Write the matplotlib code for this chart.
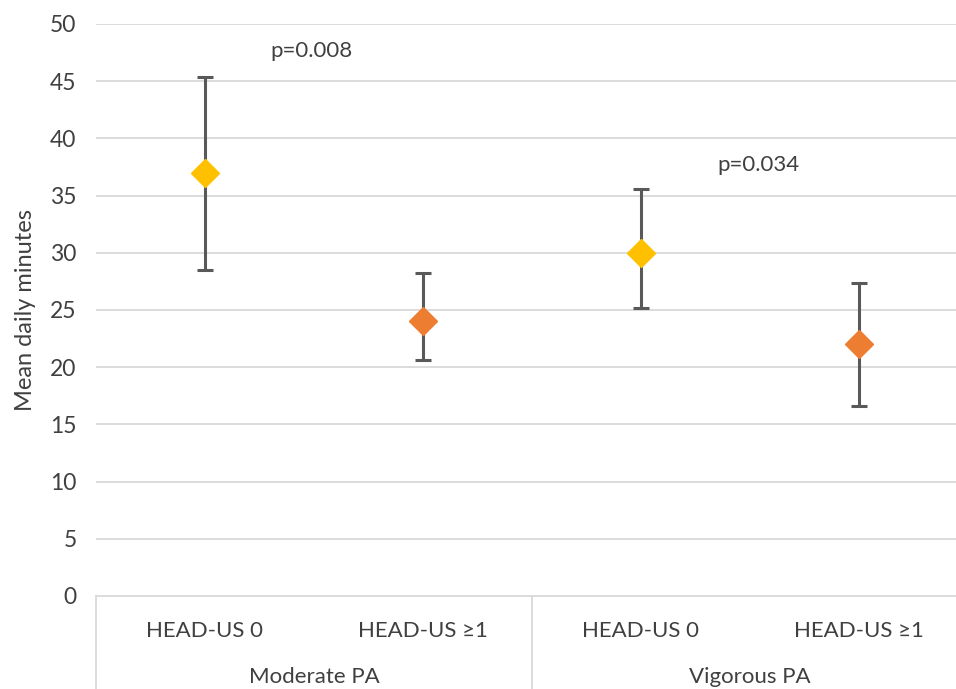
import matplotlib
matplotlib.use('Agg')
import matplotlib.pyplot as plt

# values
groups = ['Moderate PA', 'Vigorous PA']
categories = ['HEAD-US 0', 'HEAD-US \u22651', 'HEAD-US 0', 'HEAD-US \u22651']
means = [37.0, 24.0, 30.0, 22.0]
upper = [45.4, 28.2, 35.6, 27.4]
lower = [28.5, 20.6, 25.2, 16.6]
colors = ['#FFC000', '#ED7D31', '#FFC000', '#ED7D31']
p_labels = ['p=0.008', 'p=0.034']
p_pos = [(0.49, 47.6), (2.54, 37.7)]

matplotlib.rcParams['font.family'] = ['Lato', 'DejaVu Sans']
text_color = '#404040'

fig = plt.figure(figsize=(9.56, 6.89), dpi=100)
ax = fig.add_axes([96 / 956, 93 / 689, 872 / 956, 572 / 689])

for yv in range(5, 55, 5):
    ax.axhline(yv, color='#d9d9d9', lw=1.3, zorder=0)

for i in range(len(means)):
    ax.errorbar(i, means[i], yerr=[[means[i] - lower[i]], [upper[i] - means[i]]],
                fmt='none', ecolor='#595959', elinewidth=2.2, capsize=6, capthick=2.2, zorder=2)
    ax.plot(i, means[i], marker='D', color=colors[i], markersize=14, ls='none', zorder=3)

for txt, (px, py) in zip(p_labels, p_pos):
    ax.text(px, py, txt, ha='center', va='center', fontsize=16, color=text_color)

ax.set_xlim(-0.5, 3.5)
ax.set_ylim(0, 50)
ax.set_yticks(range(0, 55, 5))
ax.tick_params(axis='y', length=0, labelsize=16.5, labelcolor=text_color, pad=14)
ax.set_xticks([])
for s in ['top', 'right', 'left']:
    ax.spines[s].set_visible(False)
ax.spines['bottom'].set_color('#d9d9d9')
ax.spines['bottom'].set_linewidth(1.3)

ax.set_ylabel('Mean daily minutes', fontsize=17, color=text_color, labelpad=10)

# two-level category axis
for i, c in enumerate(categories):
    ax.annotate(c, xy=(i, 0), xycoords=('data', 'axes fraction'), xytext=(0, -25),
                textcoords='offset points', ha='center', va='center', fontsize=16,
                color=text_color, annotation_clip=False)
for g, name in enumerate(groups):
    ax.annotate(name, xy=(2 * g + 0.5, 0), xycoords=('data', 'axes fraction'), xytext=(0, -58),
                textcoords='offset points', ha='center', va='center', fontsize=16,
                color=text_color, annotation_clip=False)
for xv in [-0.5, 1.5]:
    ax.plot([xv, xv], [0, -0.2], transform=ax.get_xaxis_transform(), color='#d9d9d9',
            lw=1.3, clip_on=False)

fig.savefig('out.png', dpi=100)
